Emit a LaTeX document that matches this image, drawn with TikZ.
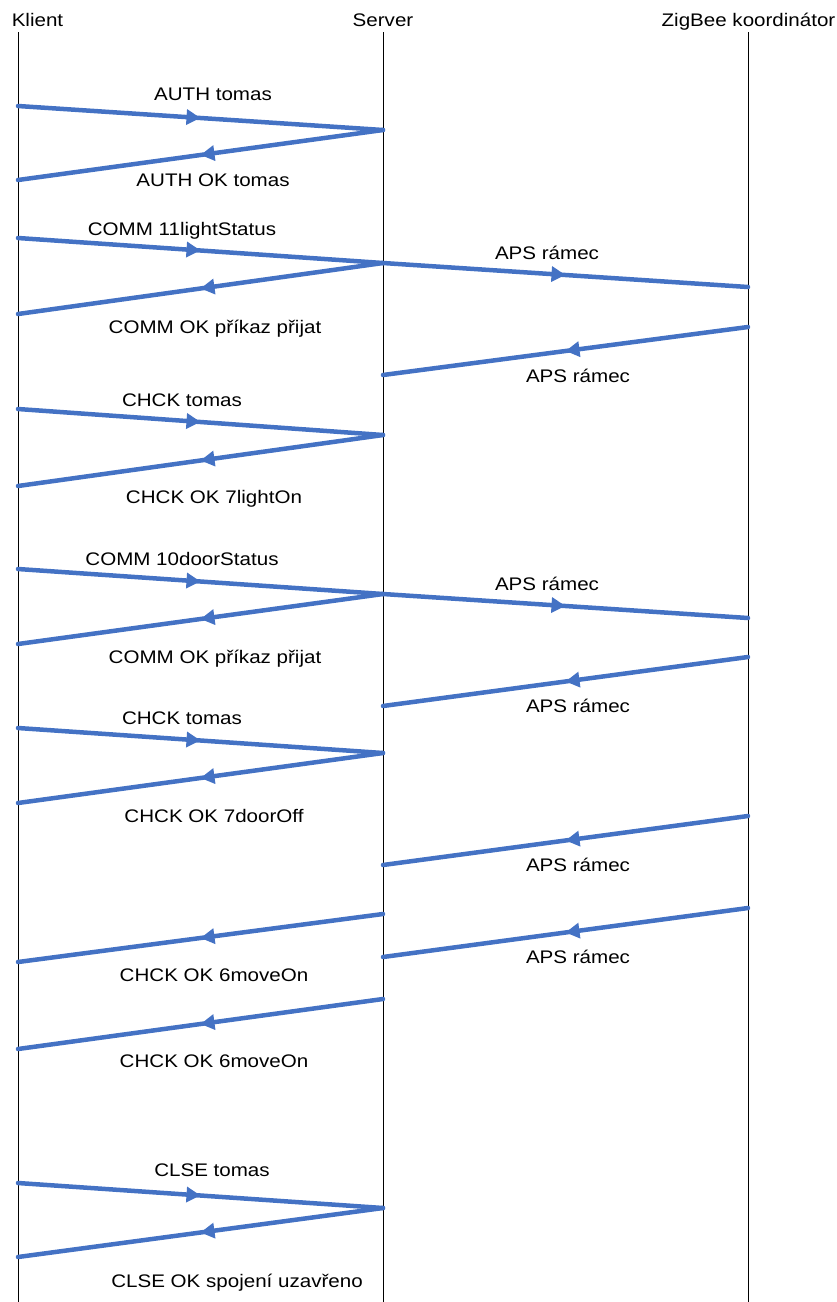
\documentclass[tikz,border=0pt]{standalone}
\usepackage{fontspec}
\setmainfont{Liberation Sans}[FakeStretch=1.13]
\usetikzlibrary{arrows.meta,decorations.markings}
\definecolor{msgblue}{RGB}{68,114,196}
\tikzset{
  lifeline/.style={draw=black,line width=1pt},
  msg/.style={draw=msgblue,line width=4.5pt,line cap=round,
    postaction={decorate},
    decoration={markings,mark=at position 0.5 with {\arrow[msgblue]{Triangle[length=14pt,width=15pt]}}}},
  lbl/.style={anchor=base,inner sep=0pt,font=\fontsize{18.2pt}{21pt}\selectfont},
  head/.style={anchor=base,inner sep=0pt,font=\fontsize{18.2pt}{21pt}\selectfont}
}
\begin{document}
\begin{tikzpicture}[x=1pt,y=-1pt]
\useasboundingbox (0,0) rectangle (837,1302);
% headers
\node[head] (klient) at (37.5,26) {Klient};
\node[head] (server) at (383,26) {Server};
\node[head] (zigbee) at (748.5,26) {ZigBee koordinátor};
% lifelines
\coordinate (kt) at (18,32); \coordinate (kb) at (18,1302);
\coordinate (st) at (383,32); \coordinate (sb) at (383,1302);
\coordinate (zt) at (748,32); \coordinate (zb) at (748,1302);
\draw[lifeline] (kt) -- (kb);
\draw[lifeline] (st) -- (sb);
\draw[lifeline] (zt) -- (zb);
% message points
\coordinate (k1) at (18,106); \coordinate (s1) at (383,130); \coordinate (k2) at (18,180);
\coordinate (k3) at (18,238); \coordinate (s2) at (383,263); \coordinate (z1) at (748,287);
\coordinate (k4) at (18,314); \coordinate (z2) at (748,327); \coordinate (s3) at (383,375);
\coordinate (k5) at (18,409); \coordinate (s4) at (383,435); \coordinate (k6) at (18,486);
\coordinate (k7) at (18,569); \coordinate (s5) at (383,594); \coordinate (z3) at (748,618);
\coordinate (k8) at (18,644); \coordinate (z4) at (748,657); \coordinate (s6) at (383,706);
\coordinate (k9) at (18,728); \coordinate (s7) at (383,753); \coordinate (k10) at (18,803);
\coordinate (z5) at (748,816); \coordinate (s8) at (383,865);
\coordinate (s9) at (383,914); \coordinate (k11) at (18,962);
\coordinate (z6) at (748,908); \coordinate (s10) at (383,957);
\coordinate (s11) at (383,999); \coordinate (k12) at (18,1049);
\coordinate (k13) at (18,1183); \coordinate (s12) at (383,1208); \coordinate (k14) at (18,1257);
% messages
\draw[msg] (k1) -- (s1);
\draw[msg] (s1) -- (k2);
\draw[msg] (k3) -- (s2);
\draw[msg] (s2) -- (z1);
\draw[msg] (s2) -- (k4);
\draw[msg] (z2) -- (s3);
\draw[msg] (k5) -- (s4);
\draw[msg] (s4) -- (k6);
\draw[msg] (k7) -- (s5);
\draw[msg] (s5) -- (z3);
\draw[msg] (s5) -- (k8);
\draw[msg] (z4) -- (s6);
\draw[msg] (k9) -- (s7);
\draw[msg] (s7) -- (k10);
\draw[msg] (z5) -- (s8);
\draw[msg] (s9) -- (k11);
\draw[msg] (z6) -- (s10);
\draw[msg] (s11) -- (k12);
\draw[msg] (k13) -- (s12);
\draw[msg] (s12) -- (k14);
% labels
\node[lbl] (l1) at (213,100) {AUTH tomas};
\node[lbl] (l2) at (213,186) {AUTH OK tomas};
\node[lbl] (l3) at (182,235) {COMM 11lightStatus};
\node[lbl] (l4) at (547,259) {APS rámec};
\node[lbl] (l5) at (215,333) {COMM OK příkaz přijat};
\node[lbl] (l6) at (578,382) {APS rámec};
\node[lbl] (l7) at (182,406) {CHCK tomas};
\node[lbl] (l8) at (214,503) {CHCK OK 7lightOn};
\node[lbl] (l9) at (182,565) {COMM 10doorStatus};
\node[lbl] (l10) at (547,590) {APS rámec};
\node[lbl] (l11) at (215,663) {COMM OK příkaz přijat};
\node[lbl] (l12) at (578,712) {APS rámec};
\node[lbl] (l13) at (182,724) {CHCK tomas};
\node[lbl] (l14) at (214,822) {CHCK OK 7doorOff};
\node[lbl] (l15) at (578,871) {APS rámec};
\node[lbl] (l16) at (214,981) {CHCK OK 6moveOn};
\node[lbl] (l17) at (578,963) {APS rámec};
\node[lbl] (l18) at (214,1067) {CHCK OK 6moveOn};
\node[lbl] (l19) at (212,1176) {CLSE tomas};
\node[lbl] (l20) at (237,1287) {CLSE OK spojení uzavřeno};
\end{tikzpicture}
\end{document}
